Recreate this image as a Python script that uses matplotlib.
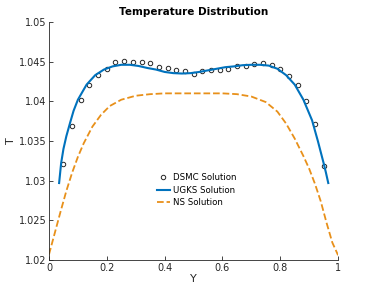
import matplotlib.pyplot as plt

# DSMC points
dsmc_y = [0.05, 0.08, 0.11, 0.14, 0.17, 0.20, 0.23, 0.26, 0.29, 0.32, 0.35,
          0.38, 0.41, 0.44, 0.47, 0.50, 0.53, 0.56, 0.59, 0.62, 0.65, 0.68,
          0.71, 0.74, 0.77, 0.80, 0.83, 0.86, 0.89, 0.92, 0.95]
dsmc_t = [1.0321, 1.0369, 1.0402, 1.0420, 1.0433, 1.0441, 1.0449, 1.0451,
          1.0450, 1.0450, 1.0448, 1.0443, 1.0442, 1.0440, 1.0438, 1.0435,
          1.0438, 1.0439, 1.0440, 1.0441, 1.0445, 1.0445, 1.0447, 1.0448,
          1.0446, 1.0441, 1.0432, 1.0421, 1.0400, 1.0372, 1.0318]

# UGKS solution
ugks_y = [0.035, 0.042, 0.05, 0.06, 0.073, 0.085, 0.10, 0.13, 0.16, 0.19,
          0.22, 0.25, 0.28, 0.31, 0.34, 0.37, 0.40, 0.43, 0.46, 0.49, 0.52,
          0.55, 0.58, 0.61, 0.64, 0.67, 0.70, 0.73, 0.76, 0.79, 0.82, 0.85,
          0.88, 0.91, 0.93, 0.95, 0.958, 0.966]
ugks_t = [1.0297, 1.0322, 1.0340, 1.0356, 1.0373, 1.0388, 1.0402, 1.0421,
          1.0433, 1.0440, 1.0444, 1.0446, 1.0446, 1.04445, 1.0442, 1.0440,
          1.0437, 1.04355, 1.0435, 1.04355, 1.0437, 1.0439, 1.0441, 1.0443,
          1.0444, 1.04455, 1.0446, 1.0446, 1.0445, 1.0441, 1.0433, 1.0421,
          1.0402, 1.0376, 1.0350, 1.0322, 1.0310, 1.0297]

# NS solution
ns_y = [0.0, 0.02, 0.04, 0.06, 0.08, 0.10, 0.12, 0.15, 0.18, 0.21, 0.25,
        0.30, 0.35, 0.40, 0.50, 0.60, 0.65, 0.70, 0.75, 0.79, 0.82, 0.85,
        0.88, 0.90, 0.92, 0.94, 0.96, 0.98, 1.0]
ns_t = [1.0207, 1.0234, 1.0261, 1.0287, 1.0310, 1.0330, 1.0347, 1.0368,
        1.0383, 1.0394, 1.0402, 1.0407, 1.0409, 1.0410, 1.0410, 1.0410,
        1.0409, 1.0406, 1.0399, 1.0387, 1.0372, 1.0353, 1.0331, 1.0315,
        1.0296, 1.0274, 1.0247, 1.0222, 1.0206]

xticks = [0, 0.2, 0.4, 0.6, 0.8, 1]
xticklabels = ['0', '0.2', '0.4', '0.6', '0.8', '1']
yticks = [1.02, 1.025, 1.03, 1.035, 1.04, 1.045, 1.05]
yticklabels = ['1.02', '1.025', '1.03', '1.035', '1.04', '1.045', '1.05']

fig = plt.figure(figsize=(3.74, 2.93), dpi=100)
ax = fig.add_axes([0.131, 0.1126, 0.773, 0.8125])

ax.plot(dsmc_y, dsmc_t, 'o', mfc='none', mec='#262626', ms=3.2, mew=0.7,
        label='DSMC Solution')
ax.plot(ugks_y, ugks_t, '-', color='#0072BD', lw=1.5, label='UGKS Solution')
ax.plot(ns_y, ns_t, '--', color='#E8901A', lw=1.3, label='NS Solution')

ax.set_xlim(0, 1)
ax.set_ylim(1.02, 1.05)
ax.set_xticks(xticks)
ax.set_xticklabels(xticklabels)
ax.set_yticks(yticks)
ax.set_yticklabels(yticklabels)

for s in ['top', 'right']:
    ax.spines[s].set_visible(False)
for s in ['left', 'bottom']:
    ax.spines[s].set_color('#262626')
    ax.spines[s].set_linewidth(0.6)
ax.tick_params(direction='in', length=3, width=0.6, colors='#262626',
               labelsize=7, pad=2)

ax.set_xlabel('Y', fontsize=8, color='#262626', labelpad=1)
ax.set_ylabel('T', fontsize=8, color='#262626', labelpad=2)
ax.set_title('Temperature Distribution', fontsize=7.5, fontweight='bold',
             pad=5)

leg = ax.legend(loc='center', bbox_to_anchor=(0.51, 0.294), frameon=False,
                fontsize=6.2, handlelength=1.6, handletextpad=0.3,
                labelspacing=0.45, borderaxespad=0)

fig.savefig('out.png', dpi=100)
